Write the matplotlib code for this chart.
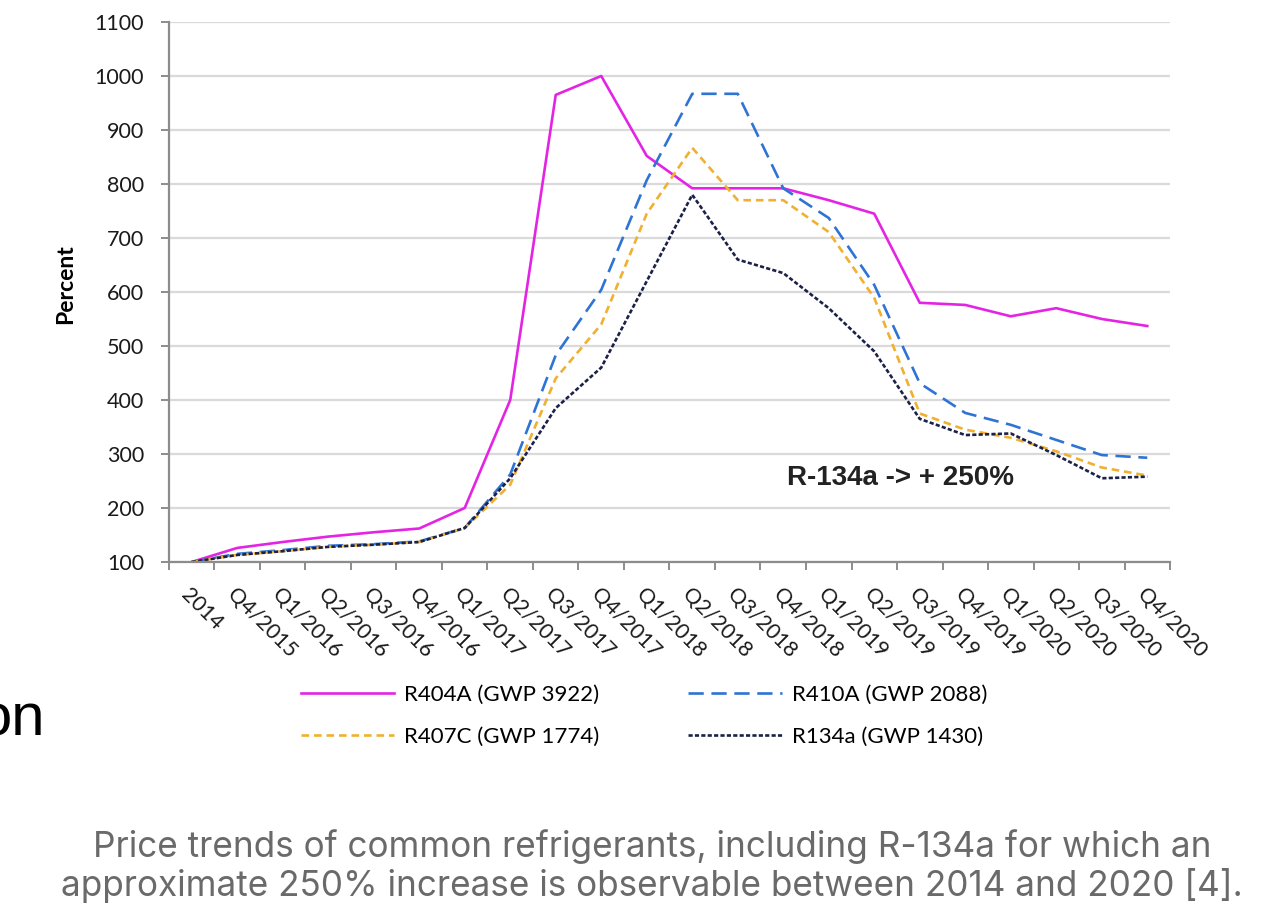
import numpy as np
import matplotlib
matplotlib.use("Agg")
import matplotlib.pyplot as plt

# quarterly price index of common refrigerants (2014 = 100)
quarters = ["2014", "Q4/2015", "Q1/2016", "Q2/2016", "Q3/2016", "Q4/2016",
            "Q1/2017", "Q2/2017", "Q3/2017", "Q4/2017", "Q1/2018", "Q2/2018",
            "Q3/2018", "Q4/2018", "Q1/2019", "Q2/2019", "Q3/2019", "Q4/2019",
            "Q1/2020", "Q2/2020", "Q3/2020", "Q4/2020"]
r404a = [100, 126, 137, 147, 155, 162, 200, 400, 965, 1000, 852, 792,
         792, 792, 770, 745, 580, 576, 555, 570, 550, 537]
r410a = [100, 115, 122, 130, 133, 138, 163, 262, 483, 604, 807, 967,
         967, 792, 737, 613, 431, 376, 354, 326, 298, 293]
r407c = [100, 113, 120, 128, 132, 137, 163, 243, 440, 540, 745, 867,
         770, 770, 711, 589, 375, 345, 330, 305, 275, 260]
r134a = [100, 113, 120, 128, 132, 137, 163, 255, 385, 460, 620, 780,
         660, 635, 570, 490, 365, 335, 338, 298, 255, 258]

plt.rcParams["lines.scale_dashes"] = False
chart_font = "Lato"

fig = plt.figure(figsize=(12.79, 9.24), dpi=100)
ax = fig.add_axes([0.1321, 0.3918, 0.7827, 0.5844])

x = np.arange(len(quarters))
l1, = ax.plot(x, r404a, color="#E424E4", lw=1.9, label="R404A (GWP 3922)")
l2, = ax.plot(x, r410a, color="#2F74D4", lw=1.9, dashes=(11, 5.5),
              label="R410A (GWP 2088)")
l3, = ax.plot(x, r407c, color="#F0B032", lw=1.9, dashes=(5.5, 3.5),
              label="R407C (GWP 1774)")
l4, = ax.plot(x, r134a, color="#1C2148", lw=1.9, dashes=(3, 1.6),
              label="R134a (GWP 1430)")

ax.set_xlim(-0.5, len(quarters) - 0.5)
ax.set_ylim(100, 1100)
ax.set_yticks(np.arange(100, 1101, 100))
ax.yaxis.grid(True, color="#DADADA", lw=1.6)
ax.set_axisbelow(True)

# ticks sit between categories, labels at category centres
ax.set_xticks(np.arange(-0.5, len(quarters)), labels=[])
ax.set_xticks(x, minor=True)
ax.set_xticklabels(quarters, minor=True, rotation=-45, ha="left", va="top",
                   rotation_mode="anchor", fontfamily=chart_font, fontsize=15.5,
                   color="#1A1A1A")
ax.tick_params(axis="x", which="minor", length=0, pad=16)
ax.tick_params(axis="both", which="major", length=6, width=1.4, color="#8C8C8C")
ax.tick_params(axis="y", pad=12)
for lab in ax.get_yticklabels():
    lab.set_fontfamily(chart_font)
    lab.set_fontsize(15.5)
    lab.set_color("#1A1A1A")

for s in ["top", "right"]:
    ax.spines[s].set_visible(False)
for s in ["left", "bottom"]:
    ax.spines[s].set_color("#8C8C8C")
    ax.spines[s].set_linewidth(1.6)

ax.set_ylabel("Percent", fontfamily=chart_font, fontsize=16.5, fontweight="bold")
ax.yaxis.set_label_coords(-0.093, 0.515)

ax.text(13.08, 243, "R-134a -> + 250%", fontfamily="Liberation Sans",
        fontweight="bold", fontsize=20, ha="left", va="baseline", color="#222222")

fig.legend(handles=[l1, l3, l2, l4], ncol=2, loc="center",
           bbox_to_anchor=(0.5035, 0.2256), frameon=False,
           prop={"family": chart_font, "size": 16},
           handlelength=4.2, handletextpad=0.45, columnspacing=4.0,
           labelspacing=1.0)

fig.text(-0.0165, 0.2045, "on", fontfamily="Liberation Sans", fontsize=43,
         ha="left", va="baseline", color="black")

caption_font = "Inter"
fig.text(0.5098, 0.0725, "Price trends of common refrigerants, including R-134a for which an",
         fontfamily=caption_font, fontsize=25.3, ha="center", va="baseline",
         color="#6A6A6A")
fig.text(0.5094, 0.0303, "approximate 250% increase is observable between 2014 and 2020 [4].",
         fontfamily=caption_font, fontsize=25.3, ha="center", va="baseline",
         color="#6A6A6A")

fig.savefig("out.png", dpi=100)
